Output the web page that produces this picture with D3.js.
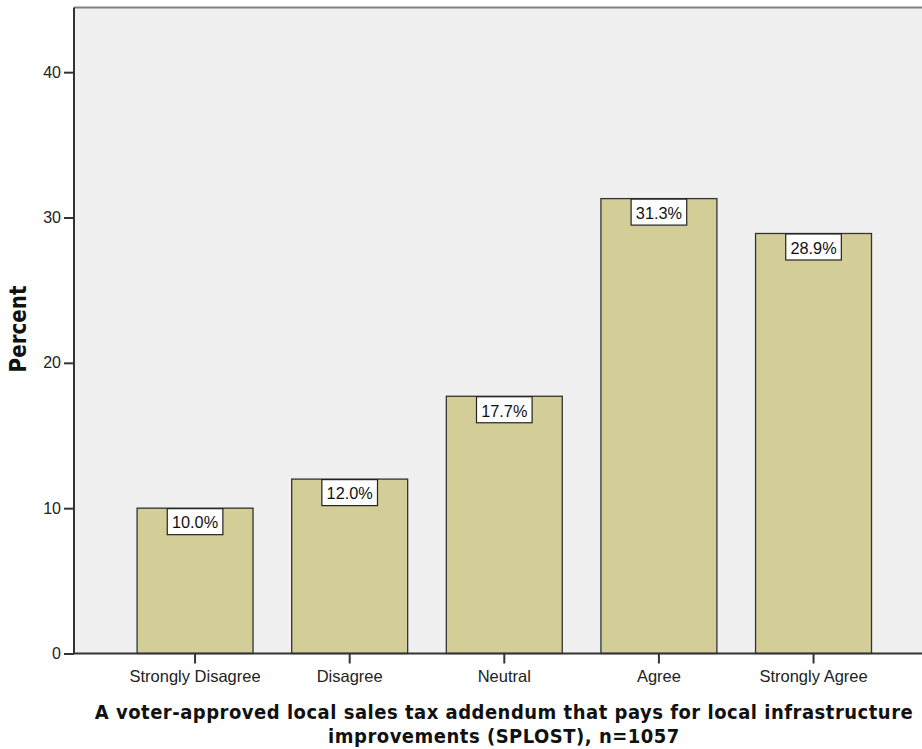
<!DOCTYPE html>
<html><head><meta charset="utf-8">
<script src="https://cdn.jsdelivr.net/npm/d3@7"></script>
<style>body{margin:0;background:#fff;}svg{display:block;}</style>
</head><body>
<svg id="c" width="922" height="749"></svg>
<script>
const categories = ["Strongly Disagree","Disagree","Neutral","Agree","Strongly Agree"];
const percents = [10.0, 12.0, 17.7, 31.3, 28.9];
const yTicks = [0, 10, 20, 30, 40];
const titleLines = ["A voter-approved local sales tax addendum that pays for local infrastructure","improvements (SPLOST), n=1057"];
const yLabel = "Percent";

(function(){
const svg = d3.select("#c");
const pL = 74, pT = 7.5, pB = 653.5, pR = 934.6;
const x = d3.scaleBand().domain(categories).range([pL, pR]).paddingInner(0.25).paddingOuter(0.408);
const y = d3.scaleLinear().domain([0, 44.45]).range([pB, pT]);

svg.append("rect").attr("x", pL).attr("y", pT).attr("width", pR - pL).attr("height", pB - pT)
  .attr("fill", "#f0f0f0");
svg.append("line").attr("x1", pL).attr("x2", 922).attr("y1", pT).attr("y2", pT)
  .attr("stroke", "#808080").attr("stroke-width", 2);

svg.selectAll("rect.bar").data(percents).join("rect").attr("class","bar")
  .attr("x", (d,i) => x(categories[i])).attr("width", x.bandwidth())
  .attr("y", d => y(d)).attr("height", d => y(0) - y(d))
  .attr("fill", "#d3ce97").attr("stroke", "#333").attr("stroke-width", 1.3);

const lab = svg.selectAll("g.lab").data(percents).join("g").attr("class","lab")
  .attr("transform", (d,i) => `translate(${x(categories[i]) + x.bandwidth()/2},${y(d)})`);
lab.append("rect").attr("x", -27.8).attr("y", 0.5).attr("width", 55.6).attr("height", 26)
  .attr("fill", "#fff").attr("stroke", "#222").attr("stroke-width", 1.2);
lab.append("text").attr("y", 20.3).attr("text-anchor", "middle")
  .attr("font-family", "Liberation Sans, Arial, sans-serif").attr("font-size", 16.3).attr("fill", "#111")
  .text(d => d.toFixed(1) + "%");

const yAxis = svg.append("g").attr("transform", `translate(${pL},0)`)
  .call(d3.axisLeft(y).tickValues(yTicks).tickSize(10).tickPadding(3).tickFormat(d3.format("d")));
yAxis.select(".domain").attr("stroke", "#333").attr("stroke-width", 2).attr("d", `M0,${pT}V${pB}`);
yAxis.selectAll(".tick line").attr("stroke", "#333").attr("stroke-width", 2);
yAxis.selectAll("text").attr("font-family", "Liberation Sans, Arial, sans-serif").attr("font-size", 16).attr("fill", "#222");

const xAxis = svg.append("g").attr("transform", `translate(0,${pB})`)
  .call(d3.axisBottom(x).tickSize(10).tickPadding(6.5));
xAxis.select(".domain").attr("stroke", "#333").attr("stroke-width", 2).attr("d", `M${pL},0H922`);
xAxis.selectAll(".tick line").attr("stroke", "#333").attr("stroke-width", 2);
xAxis.selectAll("text").attr("font-family", "Liberation Sans, Arial, sans-serif").attr("font-size", 16.5).attr("fill", "#222");

const yl = svg.append("text").attr("transform", "translate(26,329) rotate(-90)").attr("text-anchor", "middle")
  .attr("font-family", "'DejaVu Sans Condensed', 'DejaVu Sans', sans-serif").attr("font-stretch", "condensed")
  .attr("font-weight", "bold").attr("font-size", 21).attr("fill", "#111")
  .text(yLabel);
const ylw = yl.node().getComputedTextLength();
yl.attr("font-size", 21 * 87 / ylw);

const title = svg.append("text").attr("class","title").attr("text-anchor", "middle")
  .attr("font-family", "'DejaVu Sans Condensed', 'DejaVu Sans', sans-serif").attr("font-stretch", "condensed")
  .attr("font-weight", "bold").attr("font-size", 20).attr("fill", "#111");
const spans = title.selectAll("tspan").data(titleLines).join("tspan")
  .attr("x", 504).attr("y", (d,i) => 719 + i*24).text(d => d);
const tw = spans.nodes()[0].getComputedTextLength();
const ls = Math.max(0, (818 - tw) / (titleLines[0].length - 1));
title.attr("letter-spacing", ls);
})();
</script>
</body></html>
